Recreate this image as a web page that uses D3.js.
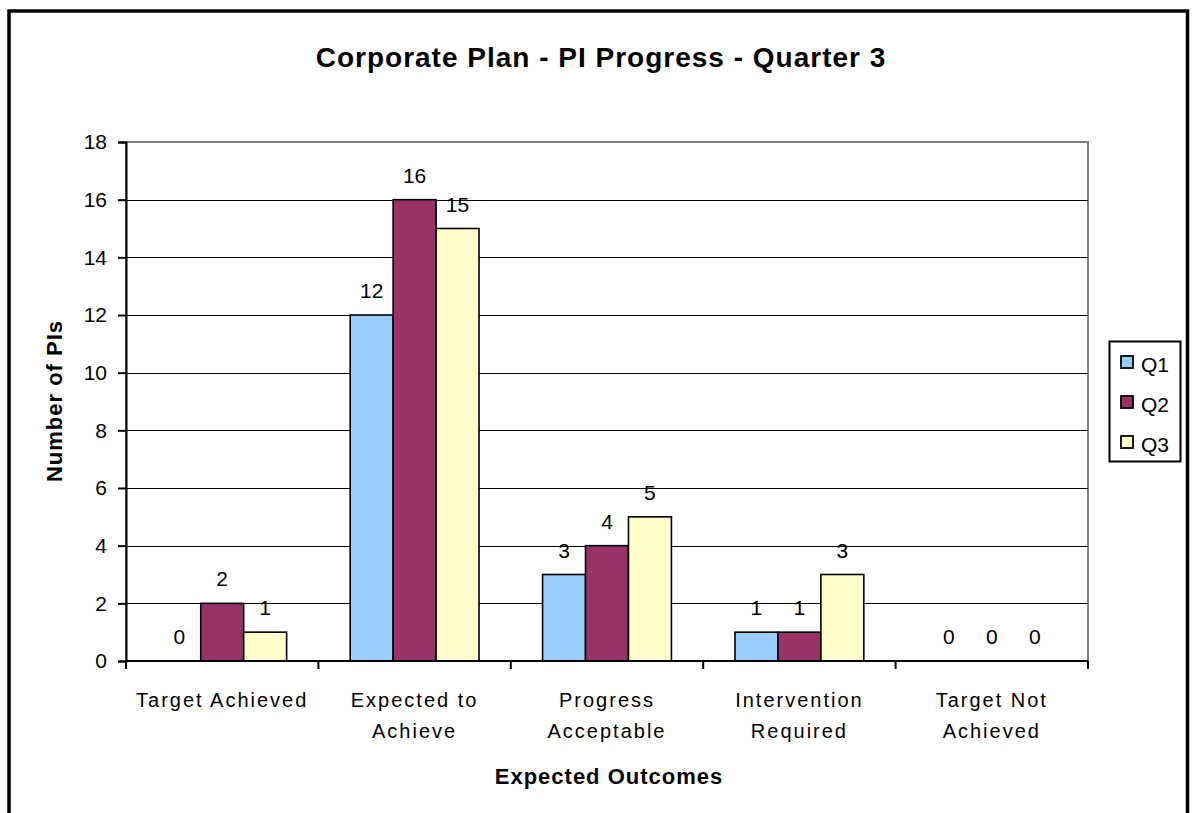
<!DOCTYPE html>
<html>
<head>
<meta charset="utf-8">
<script src="https://cdn.jsdelivr.net/npm/d3@7"></script>
<style>
  html, body { margin: 0; padding: 0; background: #fff; }
  svg { display: block; font-family: Arial, "Liberation Sans", sans-serif; }
</style>
</head>
<body>
<svg id="chart" width="1194" height="813"></svg>
<script>
// Categories (each is a list of label lines) and series values
const categories = ["Target Achieved", "Expected to Achieve", "Progress Acceptable", "Intervention Required", "Target Not Achieved"];
const categoryLines = [["Target Achieved"], ["Expected to", "Achieve"], ["Progress", "Acceptable"], ["Intervention", "Required"], ["Target Not", "Achieved"]];
const seriesNames = ["Q1", "Q2", "Q3"];
const q1 = [0, 12, 3, 1, 0];
const q2 = [2, 16, 4, 1, 0];
const q3 = [1, 15, 5, 3, 0];
const yTicks = [0, 2, 4, 6, 8, 10, 12, 14, 16, 18];
const colors = ["#99CCFF", "#993366", "#FFFFCC"];

const seriesValues = [q1, q2, q3];

const svg = d3.select("#chart");

// Outer chart frame (extends beyond the bottom of the view)
svg.append("rect")
  .attr("x", 9).attr("y", 11)
  .attr("width", 1178.5).attr("height", 900)
  .attr("fill", "#fff").attr("stroke", "#000").attr("stroke-width", 3.5);

const plot = { left: 126, right: 1088, top: 142, bottom: 661 };

const x = d3.scaleBand().domain(categories).range([plot.left, plot.right]).paddingInner(0).paddingOuter(0);
const xSub = d3.scaleBand().domain(seriesNames).range([0, x.bandwidth()]).paddingInner(0).paddingOuter(0.74);
const y = d3.scaleLinear().domain([0, 18]).range([plot.bottom, plot.top]);

// Plot area border
svg.append("rect")
  .attr("x", plot.left).attr("y", plot.top)
  .attr("width", plot.right - plot.left).attr("height", plot.bottom - plot.top)
  .attr("fill", "#fff").attr("stroke", "#808080").attr("stroke-width", 2);

// Horizontal gridlines
svg.append("g")
  .selectAll("line")
  .data(yTicks.filter(d => d > 0 && d < 18))
  .join("line")
  .attr("x1", plot.left).attr("x2", plot.right)
  .attr("y1", d => Math.round(y(d)) + 0.5).attr("y2", d => Math.round(y(d)) + 0.5)
  .attr("stroke", "#000").attr("stroke-width", 1.2);

// Bars
const groups = svg.append("g").selectAll("g")
  .data(seriesNames)
  .join("g");

groups.each(function(s, si) {
  d3.select(this).selectAll("rect")
    .data(categories.map((c, ci) => ({ c, v: seriesValues[si][ci] })).filter(d => d.v > 0))
    .join("rect")
    .attr("x", d => x(d.c) + xSub(s))
    .attr("y", d => y(d.v))
    .attr("width", xSub.bandwidth())
    .attr("height", d => y(0) - y(d.v))
    .attr("fill", colors[si])
    .attr("stroke", "#000")
    .attr("stroke-width", 1.6);
});

// Value labels
groups.each(function(s, si) {
  d3.select(this).selectAll("text")
    .data(categories.map((c, ci) => ({ c, v: seriesValues[si][ci] })))
    .join("text")
    .attr("x", d => x(d.c) + xSub(s) + xSub.bandwidth() / 2)
    .attr("y", d => y(d.v) - 17)
    .attr("text-anchor", "middle")
    .attr("font-size", 21)
    .attr("fill", "#000")
    .text(d => d.v);
});

// Y axis
const yAxis = d3.axisLeft(y).tickValues(yTicks).tickSize(8).tickPadding(11);
const yg = svg.append("g").attr("transform", `translate(${plot.left},0)`).call(yAxis);
yg.select(".domain").attr("stroke", "#000").attr("stroke-width", 2);
yg.selectAll(".tick line").attr("stroke", "#000").attr("stroke-width", 2);
yg.selectAll(".tick text").attr("font-size", 21).attr("font-family", "Arial, 'Liberation Sans', sans-serif").attr("fill", "#000");

// X axis
const xg = svg.append("g").attr("transform", `translate(0,${plot.bottom})`);
xg.append("line")
  .attr("x1", plot.left).attr("x2", plot.right)
  .attr("y1", 0).attr("y2", 0)
  .attr("stroke", "#000").attr("stroke-width", 2);
xg.selectAll("line.tick")
  .data(categories.map(c => x(c)).concat([plot.right]))
  .join("line")
  .attr("class", "tick")
  .attr("x1", d => d).attr("x2", d => d)
  .attr("y1", 0).attr("y2", 8)
  .attr("stroke", "#000").attr("stroke-width", 2);

// Category labels
const catText = xg.selectAll("text")
  .data(categories)
  .join("text")
  .attr("text-anchor", "middle")
  .attr("font-size", 20)
  .attr("letter-spacing", 2)
  .attr("fill", "#000");
catText.each(function(c, i) {
  const t = d3.select(this);
  categoryLines[i].forEach((line, li) => {
    t.append("tspan")
      .attr("x", x(c) + x.bandwidth() / 2)
      .attr("y", 46 + li * 31)
      .text(line);
  });
});

// Title
svg.append("text")
  .attr("x", 601).attr("y", 67)
  .attr("text-anchor", "middle")
  .attr("font-size", 28).attr("font-weight", "bold")
  .attr("letter-spacing", 1)
  .text("Corporate Plan - PI Progress - Quarter 3");

// Axis titles
svg.append("text")
  .attr("x", 609).attr("y", 784)
  .attr("text-anchor", "middle")
  .attr("font-size", 22).attr("font-weight", "bold")
  .attr("letter-spacing", 1)
  .text("Expected Outcomes");

svg.append("text")
  .attr("transform", "translate(62,401) rotate(-90)")
  .attr("text-anchor", "middle")
  .attr("font-size", 22).attr("font-weight", "bold")
  .attr("letter-spacing", 1)
  .text("Number of PIs");

// Legend
const legend = svg.append("g");
legend.append("rect")
  .attr("x", 1109.5).attr("y", 341.5)
  .attr("width", 71).attr("height", 120)
  .attr("fill", "#fff").attr("stroke", "#000").attr("stroke-width", 2);
seriesNames.forEach((s, i) => {
  const cy = 362 + i * 40;
  legend.append("rect")
    .attr("x", 1121).attr("y", cy - 6)
    .attr("width", 12).attr("height", 12)
    .attr("fill", colors[i]).attr("stroke", "#000").attr("stroke-width", 1.8);
  legend.append("text")
    .attr("x", 1141).attr("y", cy + 10)
    .attr("font-size", 21)
    .text(s);
});
</script>
</body>
</html>
